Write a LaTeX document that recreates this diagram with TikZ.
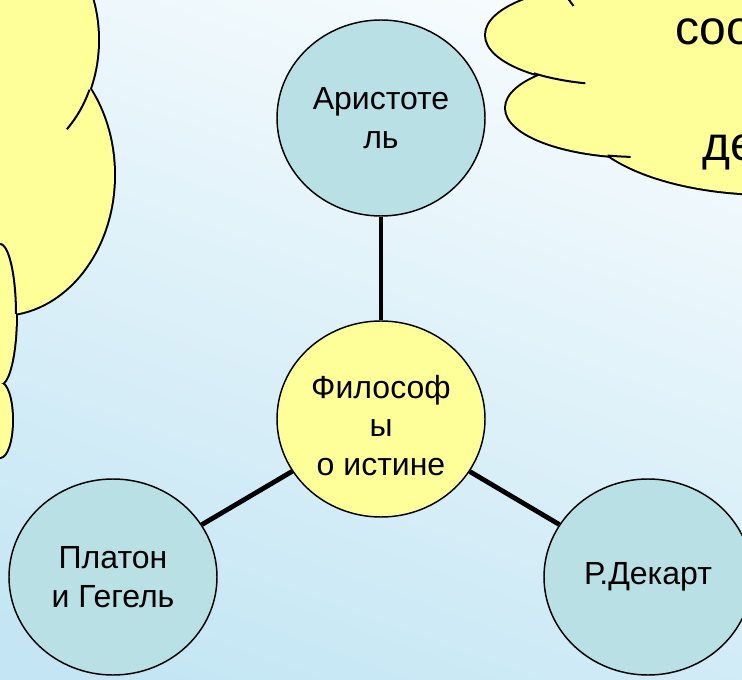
\documentclass[tikz,border=0pt]{standalone}
\usepackage{fontspec}
\setmainfont{Liberation Sans}
\usetikzlibrary{shapes.geometric}
\definecolor{skytop}{RGB}{248,252,254}
\definecolor{skybottom}{RGB}{196,230,244}
\definecolor{cloudyellow}{RGB}{255,255,153}
\definecolor{sagefill}{RGB}{185,224,228}

\begin{document}
\begin{tikzpicture}[x=0.75pt,y=-0.75pt,
  philosopher/.style={ellipse, draw, line width=1.1pt, fill=sagefill, minimum width=156pt, minimum height=147pt, inner sep=0pt, align=center, font=\fontsize{24}{29}\selectfont},
  hub/.style={philosopher, fill=cloudyellow},
  link/.style={line width=3.6pt},
  cloudtext/.style={anchor=base west, inner sep=0pt, font=\fontsize{36}{43}\selectfont}]
\useasboundingbox (0,0) rectangle (742,680);
\clip (0,0) rectangle (742,680);
\shade[top color=skytop, bottom color=skybottom, shading angle=-20] (-40,-40) rectangle (782,720);

% clouds
\foreach \cx/\cy/\rx/\ry in {0/40/98/122, 0/175/114/140, 0/314/16/70, 0/420/12/37, 680/-60/130/115, 620/35/134/50, 640/108/134/49, 770/112/190/82}
  \draw[line width=3pt] (\cx,\cy) ellipse[x radius=\rx, y radius=\ry];
\foreach \cx/\cy/\rx/\ry in {0/40/98/122, 0/175/114/140, 0/314/16/70, 0/420/12/37, 680/-60/130/115, 620/35/134/50, 640/108/134/49, 770/112/190/82}
  \fill[cloudyellow] (\cx,\cy) ellipse[x radius=\rx, y radius=\ry];
\draw[line width=1.5pt, domain=24:47, variable=\t, smooth] plot ({98*cos(\t)},{40+122*sin(\t)});
\draw[line width=1.5pt, domain=-90:0, variable=\t, smooth] plot ({16*cos(\t)},{314+70*sin(\t)});
\draw[line width=1.5pt, domain=105:130, variable=\t, smooth] plot ({620+134*cos(\t)},{35+50*sin(\t)});
\draw[line width=1.5pt, domain=94:104, variable=\t, smooth] plot ({640+134*cos(\t)},{108+49*sin(\t)});
\draw[line width=1.5pt, domain=145:152, variable=\t, smooth] plot ({680+130*cos(\t)},{-60+115*sin(\t)});
\node[cloudtext] (cloudtop) at (675,45) {соо};
\node[cloudtext] (cloudlow) at (702,161) {де};

\node[philosopher] (aristotle) at (381,118) {Аристоте\\ль};
\node[hub] (truth) at (381,419) {\rule{0pt}{27pt}Философ\\ы\\о истине};
\node[philosopher] (plato) at (113,577) {Платон\\ и Гегель};
\node[philosopher] (descartes) at (648,577) {Р.Декарт};

\draw[link] (truth) -- (aristotle);
\draw[link] (truth) -- (plato);
\draw[link] (truth) -- (descartes);
\end{tikzpicture}
\end{document}
